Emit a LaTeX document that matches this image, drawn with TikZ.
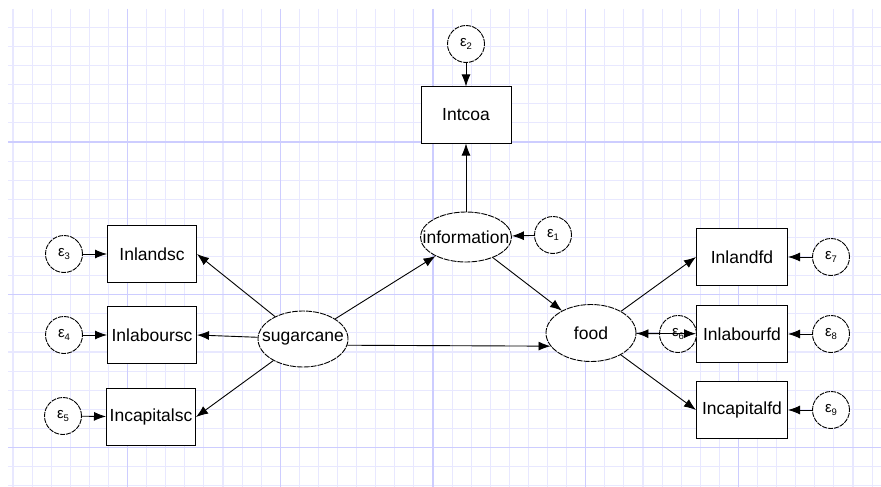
\documentclass[tikz,border=0pt]{standalone}
\usepackage{fontspec}
\setmainfont{Liberation Sans}
\usetikzlibrary{shapes.geometric,arrows.meta}
\definecolor{gridminor}{RGB}{232,232,255}
\definecolor{gridmajor}{RGB}{205,205,255}
\tikzset{
  obs/.style={draw, line width=1pt, fill=white, rectangle, inner sep=0pt,
    minimum width=90pt, minimum height=56pt, font=\fontsize{17.5}{18}\selectfont},
  latent/.style={draw, line width=0.9pt, dash pattern=on 6pt off 1pt, fill=white, ellipse, inner sep=0pt,
    minimum width=90pt, minimum height=56pt, font=\fontsize{17.5}{18}\selectfont},
  err/.style={draw, line width=0.9pt, dash pattern=on 5pt off 1pt, fill=white, circle, inner sep=0pt,
    minimum size=37pt, font=\fontsize{15}{15}\selectfont},
  arr/.style={line width=0.9pt, -{Latex[length=12pt,width=9pt]}},
}
\newcommand{\eps}[1]{ε\raisebox{-3.5pt}{\fontsize{9.5}{9.5}\selectfont #1}}
\begin{document}
\begin{tikzpicture}[x=1pt,y=-1pt]
\useasboundingbox (0,0) rectangle (881,487);
\fill[white] (0,0) rectangle (881,487);
% background grid
\begin{scope}
\clip (8,9) rectangle (881,487);
\foreach \k in {0,...,45} {
  \pgfmathsetmacro{\gx}{13+19.09*\k}
  \draw[gridminor, line width=1.1pt] (\gx,9) -- (\gx,487);
}
\foreach \j in {-6,...,18} {
  \pgfmathsetmacro{\gy}{142+19.09*\j}
  \draw[gridminor, line width=1.1pt] (8,\gy) -- (881,\gy);
}
\foreach \k in {6,14,22,30,38} {
  \pgfmathsetmacro{\gx}{13+19.09*\k}
  \draw[gridmajor, line width=1.1pt] (\gx,9) -- (\gx,487);
}
\foreach \j in {0,8,16} {
  \pgfmathsetmacro{\gy}{142+19.09*\j}
  \draw[gridmajor, line width=1.1pt] (8,\gy) -- (881,\gy);
}
\end{scope}

% latent variables
\node[latent, minimum width=91pt, minimum height=50pt] (info) at (466,237) {\makebox[0pt]{information}};
\node[latent] (sug) at (303,339) {\makebox[0pt]{sugarcane}};
\node[latent, minimum height=57pt] (food) at (591,333) {\makebox[0pt]{food}};

% observed variables
\node[obs] (intcoa) at (466,115) {Intcoa};
\node[obs, minimum width=89pt, minimum height=57pt] (landsc) at (152,254) {Inlandsc};
\node[obs, minimum width=89pt, minimum height=57pt] (laboursc) at (152,335) {Inlaboursc};
\node[obs, minimum width=89pt, minimum height=57pt] (capsc) at (151,417) {Incapitalsc};
\node[obs, minimum width=91pt, minimum height=57pt] (landfd) at (742,257) {Inlandfd};
\node[obs, minimum width=91pt, minimum height=57pt] (labourfd) at (742,334) {Inlabourfd};
\node[obs, minimum width=91pt, minimum height=57pt] (capfd) at (742,410) {Incapitalfd};

% error terms
\node[err] (e1) at (553,235) {\eps{1}};
\node[err] (e2) at (466,44) {\eps{2}};
\node[err] (e3) at (64,254) {\eps{3}};
\node[err] (e4) at (64,335) {\eps{4}};
\node[err] (e5) at (63,416) {\eps{5}};
\node[err] (e6) at (678,334) {\eps{6}};
\node[err] (e7) at (831,257) {\eps{7}};
\node[err] (e8) at (831,334) {\eps{8}};
\node[err] (e9) at (831,410) {\eps{9}};

% paths
\draw[arr] (e2) -- (intcoa);
\draw[arr] (info) -- (intcoa);
\draw[arr] (e1) -- (info);
\draw[arr] (sug) -- (info);
\draw[arr] (info) -- (food);
\draw[arr] (sug.-8) -- (food.198);
\draw[arr] (sug) -- (landsc.east);
\draw[arr] (sug) -- (laboursc.east);
\draw[arr] (sug) -- (capsc.east);
\draw[arr] (food) -- (landfd.west);
\draw[arr] (food) -- (labourfd);
\draw[arr] (e6) -- (food);
\draw[arr] (food) -- (capfd.west);
\draw[arr] (e3) -- (landsc);
\draw[arr] (e4) -- (laboursc);
\draw[arr] (e5) -- (capsc);
\draw[arr] (e7) -- (landfd);
\draw[arr] (e8) -- (labourfd);
\draw[arr] (e9) -- (capfd);
\end{tikzpicture}
\end{document}
